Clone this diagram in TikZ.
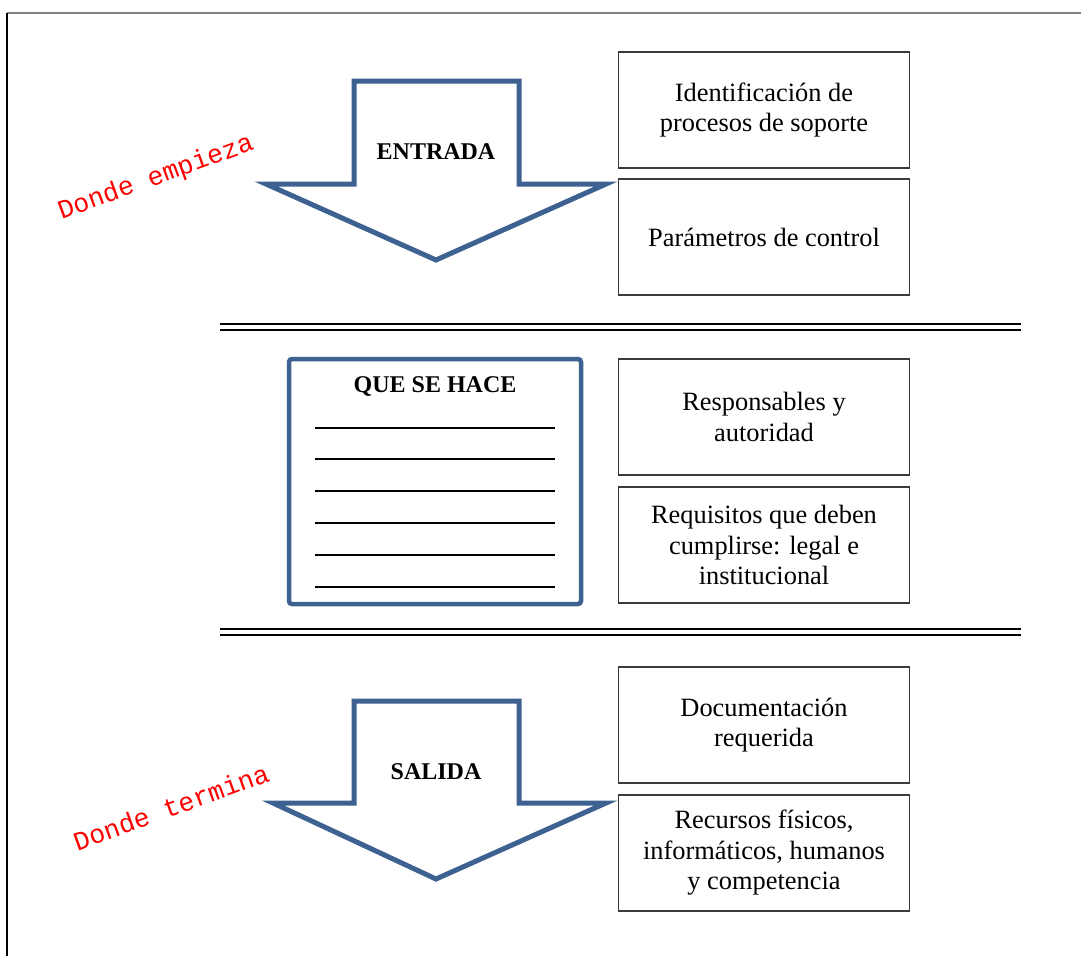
\documentclass[tikz,border=0pt]{standalone}
\usepackage{fontspec}
\setmainfont{Liberation Serif}
\newfontfamily\monofam{Liberation Mono}
\definecolor{arrowblue}{HTML}{3D6190}
\definecolor{boxgray}{HTML}{3A3A3A}
\begin{document}
\begin{tikzpicture}[x=1pt,y=-1pt,
  infobox/.style={draw=boxgray,line width=1.2pt,minimum width=291pt,minimum height=116pt,
    align=center,inner sep=0pt,font=\fontsize{26.4}{30.5}\selectfont},
  bigarrow/.style={draw=arrowblue,line width=5pt,line join=miter,fill=white},
  boldlabel/.style={font=\fontsize{24}{28}\selectfont\bfseries,inner sep=0pt},
  redtag/.style={text=red,font=\monofam\fontsize{26.4}{30}\selectfont,rotate=20,inner sep=0pt},
  rule/.style={line width=1.1pt,black},
  septhick/.style={line width=2.2pt},
  septhin/.style={line width=1.6pt}]
\useasboundingbox (0,0) rectangle (1081,956);
\fill[white] (0,0) rectangle (1081,956);

% page frame
\draw[gray,line width=2pt] (7,13) -- (1081,13);
\draw[black,line width=1.5pt] (7,13) -- (7,956);

% section separators
\draw[septhick] (220,324) -- (1021,324);
\draw[septhin] (220,330) -- (1021,330);
\draw[septhick] (220,629) -- (1021,629);
\draw[septhin] (220,635) -- (1021,635);

% input arrow
\draw[bigarrow] (354,81) -- (519,81) -- (519,184) -- (606,184) -- (436,260)
  -- (266,184) -- (354,184) -- cycle;
\node[boldlabel] (entrada) at (436,152) {ENTRADA};

% output arrow
\draw[bigarrow] (354,701) -- (519,701) -- (519,803) -- (606,803) -- (436,879)
  -- (273,803) -- (354,803) -- cycle;
\node[boldlabel] (salida) at (436,772) {SALIDA};

% activity box with blank lines
\draw[arrowblue,line width=4.5pt,rounded corners=3pt,fill=white] (289,359) rectangle (581,604);
\node[boldlabel] (quesehace) at (435,386) {QUE SE HACE};
\foreach \yy in {428,459,491,523,555,587}
  \draw[rule] (315,\yy) -- (555,\yy);

% descriptive boxes
\node[infobox] (b1) at (764,110) {Identificación de\\procesos de soporte};
\node[infobox] (b2) at (764,237) {Parámetros de control};
\node[infobox] (b3) at (764,417) {Responsables y\\autoridad};
\node[infobox] (b4) at (764,545) {Requisitos que deben\\cumplirse: legal e\\institucional};
\node[infobox] (b5) at (764,725) {Documentación\\requerida};
\node[infobox] (b6) at (764,853) {Recursos físicos,\\informáticos, humanos\\y competencia};

% red annotations
\node[redtag] (empieza) at (156,178) {Donde empieza};
\node[redtag] (termina) at (171,807) {Donde termina};
\end{tikzpicture}
\end{document}
